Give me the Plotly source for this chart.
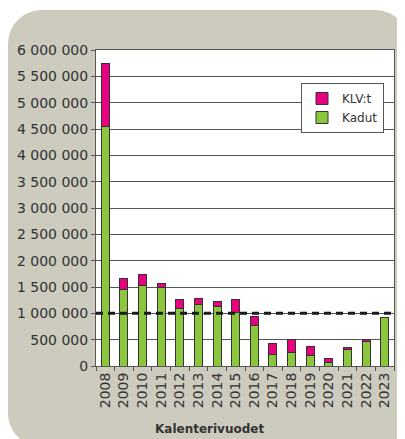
import plotly.graph_objects as go

years = ["2008", "2009", "2010", "2011", "2012", "2013", "2014", "2015",
         "2016", "2017", "2018", "2019", "2020", "2021", "2022", "2023"]
kadut = [4540000, 1445000, 1530000, 1490000, 1095000, 1160000, 1125000, 1025000,
         760000, 220000, 257000, 190000, 70000, 320000, 460000, 925000]
totals = [5740000, 1660000, 1740000, 1576000, 1260000, 1290000, 1230000, 1270000,
          940000, 430000, 505000, 370000, 145000, 360000, 500000, 925000]
klvt = [t - k for t, k in zip(totals, kadut)]
threshold = 1000000

ytick_vals = [0, 500000, 1000000, 1500000, 2000000, 2500000, 3000000, 3500000,
              4000000, 4500000, 5000000, 5500000, 6000000]
ytick_text = ["0", "500 000", "1 000 000", "1 500 000", "2 000 000", "2 500 000",
              "3 000 000", "3 500 000", "4 000 000", "4 500 000", "5 000 000",
              "5 500 000", "6 000 000"]

OFF = 8  # page body margin
W, H = 405 - OFF, 439 - OFF
L, T, PW, PH = 96 - OFF, 50 - OFF, 298, 316
R = W - L - PW
B = H - T - PH


def xp(px):
    return (px - OFF - L) / PW


def yp(py):
    return (T + PH - (py - OFF)) / PH


def rounded_path(x0, y0, x1, y1, r):
    k = 0.5523 * r
    def P(x, y):
        return f"{xp(x):.5f},{yp(y):.5f}"
    d = f"M {P(x0 + r, y0)} L {P(x1 - r, y0)} "
    d += f"C {P(x1 - r + k, y0)} {P(x1, y0 + r - k)} {P(x1, y0 + r)} "
    d += f"L {P(x1, y1 - r)} "
    d += f"C {P(x1, y1 - r + k)} {P(x1 - r + k, y1)} {P(x1 - r, y1)} "
    d += f"L {P(x0 + r, y1)} "
    d += f"C {P(x0 + r - k, y1)} {P(x0, y1 - r + k)} {P(x0, y1 - r)} "
    d += f"L {P(x0, y0 + r)} "
    d += f"C {P(x0, y0 + r - k)} {P(x0 + r - k, y0)} {P(x0 + r, y0)} Z"
    return d


fig = go.Figure()
fig.add_trace(go.Bar(x=years, y=kadut, name="Kadut",
                     marker=dict(color="#8cc63e", line=dict(color="#333333", width=1))))
fig.add_trace(go.Bar(x=years, y=klvt, name="KLV:t",
                     marker=dict(color="#e8007f", line=dict(color="#333333", width=1))))

fig.add_shape(type="path", xref="paper", yref="paper",
              path=rounded_path(8, 10, 409, 447, 34),
              fillcolor="#cccbbe", line=dict(width=0), layer="below")
fig.add_shape(type="rect", xref="paper", yref="paper", x0=0, x1=1, y0=0, y1=1,
              fillcolor="white", line=dict(width=0), layer="below")
fig.add_shape(type="line", xref="paper", yref="y", x0=0, x1=1,
              y0=threshold, y1=threshold,
              line=dict(color="#1a1a1a", width=3, dash="7px,5px"), layer="above")

fig.add_annotation(text="Kalenterivuodet", xref="paper", yref="paper",
                   x=xp(209), y=yp(429), xanchor="center", yanchor="middle",
                   showarrow=False,
                   font=dict(family="DejaVu Sans", size=12, color="#333333", weight="bold"))

fig.update_layout(
    width=W, height=H,
    margin=dict(l=L, r=R, t=T, b=B, pad=0, autoexpand=False),
    paper_bgcolor="white", plot_bgcolor="white",
    barmode="stack", bargap=0.57,
    font=dict(family="DejaVu Sans", size=14, color="#333333"),
    showlegend=True,
    legend=dict(x=xp(301), y=yp(83), xanchor="left", yanchor="top",
                bgcolor="white", bordercolor="#555555", borderwidth=1,
                traceorder="reversed", font=dict(size=12, color="#333333"),
                tracegroupgap=0, itemwidth=30),
)
fig.update_xaxes(type="category", showline=True, linecolor="#555555", linewidth=1,
                 mirror=True, ticks="outside", tickson="boundaries", ticklen=4,
                 tickcolor="#555555", tickangle=-90, showgrid=False,
                 tickfont=dict(size=14), automargin=False)
fig.update_yaxes(range=[0, 6000000], tickvals=ytick_vals, ticktext=ytick_text,
                 showline=True, linecolor="#555555", linewidth=1, mirror=True,
                 ticks="outside", ticklen=4, tickcolor="#555555",
                 showgrid=True, gridcolor="#555555", gridwidth=1,
                 zeroline=False, tickfont=dict(size=14), automargin=False)

fig.write_html("out.html")
